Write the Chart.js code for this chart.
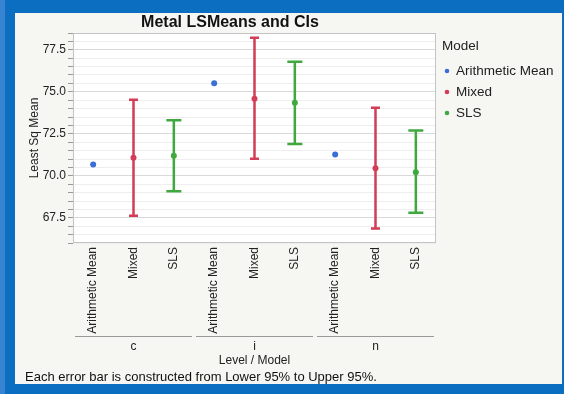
<!DOCTYPE html>
<html>
<head>
<meta charset="utf-8">
<script src="https://cdn.jsdelivr.net/npm/chart.js@4/dist/chart.umd.min.js"></script>
<style>
  html, body { margin: 0; padding: 0; }
  body { width: 564px; height: 394px; background: #0b6ec1; position: relative; overflow: hidden; }
  #strip { position: absolute; left: 0; top: 0; width: 5px; height: 394px; background: #3684d2; }
  #panel { position: absolute; left: 15px; top: 13px; width: 547px; height: 371px; background: #f6f6f2; }
  canvas { display: block; }
</style>
</head>
<body>
<div id="strip"></div>
<div id="panel"><canvas id="chart" width="547" height="371"></canvas></div>
<script>
// Categorieen en waarden
const GROUPS = ['c', 'i', 'n'];
const MODELS = ['Arithmetic Mean', 'Mixed', 'SLS'];
const CATEGORIES = GROUPS.flatMap(() => MODELS);

const ARITH_MEAN = [70.67, 75.51, 71.27];
const MIXED_MEAN = [71.07, 74.58, 70.45];
const MIXED_LOW = [67.62, 71.01, 66.86];
const MIXED_HIGH = [74.52, 78.21, 74.05];
const SLS_MEAN = [71.19, 74.35, 70.21];
const SLS_LOW = [69.08, 71.90, 67.80];
const SLS_HIGH = [73.31, 76.79, 72.70];

const Y_MIN = 66;
const Y_MAX = 78.5;
const Y_STEP = 0.5;
const Y_LABEL_STEP = 2.5;

const COLORS = {
    arith: '#3a6fd6',
    mixed: '#d43d58',
    sls: '#3fa93f'
};

const FONT = "'Liberation Sans', Arial, sans-serif";

// zet een reeks per groep op de juiste categorie-positie
function spread(values, modelIndex) {
    const out = new Array(CATEGORIES.length).fill(null);
    values.forEach((v, g) => { out[g * MODELS.length + modelIndex] = v; });
    return out;
}

function makeDataset(label, values, modelIndex, color, low, high, capHalf) {
    return {
        label: label,
        data: spread(values, modelIndex),
        low: low ? spread(low, modelIndex) : null,
        high: high ? spread(high, modelIndex) : null,
        capHalf: capHalf,
        showLine: false,
        borderColor: color,
        backgroundColor: color,
        pointRadius: 3,
        pointHoverRadius: 3,
        pointBorderWidth: 0
    };
}

const isMajor = v => Math.abs(v / Y_LABEL_STEP - Math.round(v / Y_LABEL_STEP)) < 1e-6;

// foutbalken, tekst en legenda
const extrasPlugin = {
    id: 'extras',
    beforeDraw(chart) {
        const { ctx, chartArea: a } = chart;
        ctx.save();
        ctx.fillStyle = '#ffffff';
        ctx.fillRect(a.left, a.top, a.right - a.left, a.bottom - a.top);
        ctx.restore();
    },
    beforeDatasetsDraw(chart) {
        const { ctx } = chart;
        const yScale = chart.scales.y;
        ctx.save();
        chart.data.datasets.forEach((ds, di) => {
            if (!ds.low) return;
            const meta = chart.getDatasetMeta(di);
            ctx.strokeStyle = ds.borderColor;
            ctx.lineWidth = 2.5;
            ds.low.forEach((lo, i) => {
                if (lo === null) return;
                const x = meta.data[i].x;
                const y1 = yScale.getPixelForValue(lo);
                const y2 = yScale.getPixelForValue(ds.high[i]);
                ctx.beginPath();
                ctx.moveTo(x, y1);
                ctx.lineTo(x, y2);
                ctx.moveTo(x - ds.capHalf, y1);
                ctx.lineTo(x + ds.capHalf, y1);
                ctx.moveTo(x - ds.capHalf, y2);
                ctx.lineTo(x + ds.capHalf, y2);
                ctx.stroke();
            });
        });
        ctx.restore();
    },
    afterDraw(chart) {
        const { ctx, chartArea: a } = chart;
        const xScale = chart.scales.x;
        ctx.save();

        // kader om plotgebied
        ctx.strokeStyle = '#c4c4c4';
        ctx.lineWidth = 1;
        ctx.strokeRect(a.left + 0.5, a.top + 0.5, a.right - a.left - 1, a.bottom - a.top - 1);

        // titel
        ctx.fillStyle = '#111';
        ctx.font = 'bold 16px ' + FONT;
        ctx.textAlign = 'center';
        ctx.textBaseline = 'middle';
        ctx.fillText('Metal LSMeans and CIs', 215, 10);

        // groepslijnen en -labels
        const half = (xScale.getPixelForValue(1) - xScale.getPixelForValue(0)) / 2;
        ctx.strokeStyle = '#9a9a9a';
        ctx.font = '12px ' + FONT;
        ctx.fillStyle = '#222';
        GROUPS.forEach((g, gi) => {
            const x0 = xScale.getPixelForValue(gi * 3) - half + 2;
            const x1 = xScale.getPixelForValue(gi * 3 + 2) + half - 2;
            ctx.beginPath();
            ctx.moveTo(x0, 323.5);
            ctx.lineTo(x1, 323.5);
            ctx.stroke();
            ctx.fillText(g, xScale.getPixelForValue(gi * 3 + 1), 334);
        });
        ctx.fillText('Level / Model', (a.left + a.right) / 2, 348);

        // voetnoot
        ctx.font = '13px ' + FONT;
        ctx.textAlign = 'left';
        ctx.fillStyle = '#111';
        ctx.fillText('Each error bar is constructed from Lower 95% to Upper 95%.', 10, 364);

        // legenda
        ctx.font = '13.5px ' + FONT;
        ctx.fillStyle = '#222';
        ctx.fillText('Model', 427, 33);
        chart.data.datasets.forEach((ds, di) => {
            const y = 58 + di * 21;
            ctx.fillStyle = ds.backgroundColor;
            ctx.beginPath();
            ctx.arc(432, y, 2.3, 0, Math.PI * 2);
            ctx.fill();
            ctx.fillStyle = '#222';
            ctx.fillText(ds.label, 441, y);
        });
        ctx.restore();
    }
};

new Chart(document.getElementById('chart'), {
    type: 'line',
    data: {
        labels: CATEGORIES,
        datasets: [
            makeDataset('Arithmetic Mean', ARITH_MEAN, 0, COLORS.arith, null, null, 0),
            makeDataset('Mixed', MIXED_MEAN, 1, COLORS.mixed, MIXED_LOW, MIXED_HIGH, 4.5),
            makeDataset('SLS', SLS_MEAN, 2, COLORS.sls, SLS_LOW, SLS_HIGH, 7.5)
        ]
    },
    options: {
        responsive: false,
        devicePixelRatio: 1,
        animation: false,
        layout: { padding: { top: 20, right: 126, left: 0, bottom: 0 } },
        plugins: {
            legend: { display: false },
            tooltip: { enabled: false }
        },
        scales: {
            x: {
                type: 'category',
                offset: true,
                grid: { display: false },
                border: { display: false },
                ticks: {
                    autoSkip: false,
                    minRotation: 90,
                    maxRotation: 90,
                    padding: -4,
                    color: '#222',
                    font: { family: FONT, size: 12 }
                },
                afterFit: s => { s.height = 141; }
            },
            y: {
                min: Y_MIN,
                max: Y_MAX,
                border: { display: false },
                grid: {
                    color: ctx => isMajor(ctx.tick.value) ? '#d9d9d9' : '#eeeeee',
                    tickColor: '#9a9a9a',
                    tickLength: 5
                },
                ticks: {
                    stepSize: Y_STEP,
                    autoSkip: false,
                    maxTicksLimit: 40,
                    padding: 2,
                    color: '#222',
                    font: { family: FONT, size: 12 },
                    callback: v => isMajor(v) ? v.toFixed(1) : ''
                },
                title: {
                    display: true,
                    text: 'Least Sq Mean',
                    color: '#222',
                    font: { family: FONT, size: 12 },
                    padding: { top: 12, bottom: 0 }
                },
                afterFit: s => { s.width = 58; }
            }
        }
    },
    plugins: [extrasPlugin]
});
</script>
</body>
</html>
